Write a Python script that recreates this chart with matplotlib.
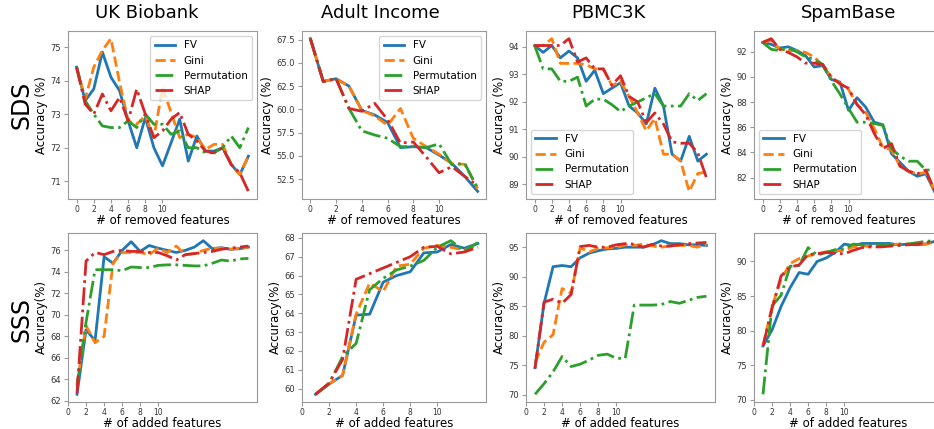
import matplotlib
matplotlib.use('Agg')
import matplotlib.pyplot as plt
from matplotlib.ticker import MultipleLocator

# ---- data ----
datasets = ['UK Biobank', 'Adult Income', 'PBMC3K', 'SpamBase']
methods = ['FV', 'Gini', 'Permutation', 'SHAP']

# SDS: accuracy vs # of removed features (starts at 0)
uk_sds_fv = [74.4, 73.4, 73.75, 74.85, 74.1, 73.7, 72.8, 72.0, 72.9, 72.0, 71.46, 72.15, 72.85, 71.6, 72.35, 71.9, 71.9, 72.0, 71.5, 71.2, 71.75]
uk_sds_gini = [74.4, 73.45, 74.4, 74.9, 75.25, 73.95, 72.8, 72.7, 72.95, 72.3, 73.8, 73.05, 72.3, 72.4, 72.3, 71.95, 72.1, 72.1, 71.5, 71.2, 71.75]
uk_sds_perm = [74.4, 73.4, 73.0, 72.65, 72.6, 72.6, 72.8, 72.6, 73.0, 72.7, 72.7, 72.4, 72.5, 72.0, 72.0, 71.85, 71.85, 72.0, 72.35, 72.0, 72.6]
uk_sds_shap = [74.4, 73.3, 73.0, 73.6, 73.1, 73.5, 72.8, 73.75, 73.0, 72.3, 72.5, 72.85, 73.05, 72.4, 72.2, 71.9, 71.85, 72.0, 71.5, 71.25, 70.7]

adult_sds_fv = [67.6, 63.0, 63.3, 62.5, 59.9, 59.4, 58.6, 55.9, 56.0, 55.9, 55.1, 54.2, 52.8, 51.2]
adult_sds_gini = [67.6, 63.0, 63.3, 62.5, 59.9, 59.3, 58.3, 60.1, 56.9, 56.0, 55.2, 54.2, 54.1, 51.5]
adult_sds_perm = [67.6, 63.0, 63.3, 60.1, 57.7, 57.25, 56.9, 56.0, 56.0, 55.9, 56.3, 54.05, 54.2, 51.5]
adult_sds_shap = [67.6, 63.0, 63.3, 60.1, 59.8, 60.65, 58.9, 56.4, 56.5, 54.9, 53.2, 53.85, 52.8, 51.8]

pbmc_sds_fv = [94.05, 93.8, 94.05, 93.6, 93.85, 93.6, 92.75, 93.15, 92.3, 92.5, 92.7, 91.85, 91.6, 91.2, 92.5, 91.85, 90.1, 89.85, 90.75, 89.85, 90.1]
pbmc_sds_gini = [94.05, 94.05, 94.3, 93.4, 93.4, 93.4, 93.35, 93.2, 93.2, 92.6, 92.75, 92.2, 91.6, 90.95, 91.4, 90.1, 90.1, 89.85, 88.75, 89.4, 89.45]
pbmc_sds_perm = [94.05, 93.2, 93.2, 92.75, 92.75, 92.9, 91.85, 92.1, 92.1, 91.9, 91.65, 91.85, 92.0, 92.15, 92.3, 91.85, 91.85, 91.85, 92.3, 92.05, 92.3]
pbmc_sds_shap = [94.05, 94.05, 94.05, 94.05, 94.3, 93.45, 93.6, 93.2, 93.2, 92.6, 92.95, 92.2, 92.0, 91.25, 91.6, 91.2, 90.55, 90.5, 90.5, 90.15, 89.25]

spam_sds_fv = [92.75, 92.6, 92.3, 92.4, 92.1, 91.7, 90.8, 90.9, 89.8, 89.6, 87.35, 88.35, 87.6, 86.4, 86.2, 83.9, 83.2, 82.5, 82.1, 82.3, 80.9]
spam_sds_gini = [92.75, 92.9, 92.2, 92.1, 92.1, 91.95, 91.6, 90.9, 90.0, 89.5, 89.0, 87.8, 87.2, 85.9, 84.4, 84.2, 82.9, 82.5, 82.3, 82.4, 81.0]
spam_sds_perm = [92.75, 92.2, 92.1, 92.3, 92.0, 91.6, 91.4, 91.0, 89.7, 88.65, 87.5, 86.4, 86.4, 86.3, 86.15, 84.3, 83.7, 83.3, 83.3, 82.6, 82.6]
spam_sds_shap = [92.75, 93.05, 92.2, 91.95, 91.6, 91.1, 91.1, 91.0, 90.0, 89.45, 89.1, 87.8, 87.0, 85.5, 84.3, 84.7, 82.9, 82.5, 82.3, 82.6, 81.0]

# SSS: accuracy vs # of added features (starts at 1)
uk_sss_fv = [62.6, 68.6, 67.6, 75.4, 74.8, 76.0, 76.8, 75.9, 76.45, 76.2, 76.0, 75.8, 76.0, 76.3, 76.9, 76.15, 76.25, 76.1, 76.15, 76.3]
uk_sss_gini = [63.5, 69.0, 67.4, 68.0, 74.85, 75.8, 75.8, 75.8, 75.6, 76.2, 75.8, 76.4, 75.6, 75.7, 76.0, 76.2, 76.2, 76.1, 76.2, 76.3]
uk_sss_perm = [63.4, 69.3, 74.2, 74.2, 74.2, 74.1, 74.45, 74.4, 74.4, 74.6, 74.65, 74.65, 74.6, 74.55, 74.55, 74.8, 75.1, 75.0, 75.2, 75.25]
uk_sss_shap = [62.7, 75.0, 75.8, 75.6, 75.9, 76.0, 75.9, 75.9, 75.8, 75.8, 75.5, 75.1, 75.6, 75.7, 75.8, 75.9, 76.1, 76.2, 76.3, 76.4]

adult_sss_fv = [59.7, 60.25, 60.7, 63.9, 63.95, 65.65, 66.0, 66.2, 67.2, 67.25, 67.65, 67.45, 67.7]
adult_sss_gini = [59.7, 60.25, 60.7, 63.95, 65.6, 65.15, 66.5, 66.6, 67.45, 67.6, 67.5, 67.35, 67.65]
adult_sss_perm = [59.7, 60.25, 61.7, 62.4, 65.25, 65.85, 66.3, 66.5, 66.8, 67.5, 67.85, 67.3, 67.75]
adult_sss_shap = [59.7, 60.3, 61.55, 65.8, 66.1, 66.4, 66.7, 67.0, 67.5, 67.55, 67.15, 67.25, 67.5]

pbmc_sss_fv = [74.6, 85.5, 91.7, 91.9, 91.7, 93.2, 94.0, 94.4, 94.7, 94.8, 95.0, 95.0, 95.0, 95.4, 96.1, 95.6, 95.6, 95.4, 95.4, 95.3]
pbmc_sss_gini = [75.5, 78.9, 80.2, 88.0, 87.2, 94.9, 94.2, 94.8, 94.9, 94.9, 95.4, 95.3, 95.5, 95.2, 95.0, 95.2, 95.3, 95.3, 95.0, 95.5]
pbmc_sss_perm = [70.1, 71.9, 73.9, 76.5, 74.8, 75.2, 75.9, 76.7, 76.9, 76.2, 76.2, 85.2, 85.2, 85.2, 85.3, 85.8, 85.5, 86.0, 86.5, 86.7]
pbmc_sss_shap = [74.5, 85.7, 86.2, 85.5, 87.0, 95.1, 95.3, 95.0, 95.0, 95.4, 95.6, 95.5, 95.0, 95.5, 95.2, 95.2, 95.4, 95.6, 95.7, 95.8]

spam_sss_fv = [77.8, 80.1, 83.5, 86.2, 88.4, 88.15, 90.0, 90.5, 91.3, 92.5, 92.3, 92.6, 92.6, 92.6, 92.6, 92.4, 92.5, 92.4, 92.5, 92.9]
spam_sss_gini = [77.8, 83.5, 87.4, 89.7, 90.4, 90.8, 91.1, 91.4, 91.5, 91.6, 92.1, 92.2, 92.2, 92.3, 92.4, 92.5, 92.5, 92.6, 92.5, 92.8]
spam_sss_perm = [70.8, 83.6, 85.1, 89.3, 89.4, 92.0, 90.9, 91.3, 91.7, 91.8, 92.5, 92.4, 92.3, 92.4, 92.4, 92.5, 92.5, 92.7, 92.9, 93.0]
spam_sss_shap = [77.8, 83.2, 87.9, 89.2, 89.5, 91.0, 91.1, 91.3, 91.2, 91.1, 91.6, 92.0, 92.1, 92.1, 92.2, 92.3, 92.4, 92.5, 92.7, 92.9]

sds = [
    [uk_sds_fv, uk_sds_gini, uk_sds_perm, uk_sds_shap],
    [adult_sds_fv, adult_sds_gini, adult_sds_perm, adult_sds_shap],
    [pbmc_sds_fv, pbmc_sds_gini, pbmc_sds_perm, pbmc_sds_shap],
    [spam_sds_fv, spam_sds_gini, spam_sds_perm, spam_sds_shap],
]
sss = [
    [uk_sss_fv, uk_sss_gini, uk_sss_perm, uk_sss_shap],
    [adult_sss_fv, adult_sss_gini, adult_sss_perm, adult_sss_shap],
    [pbmc_sss_fv, pbmc_sss_gini, pbmc_sss_perm, pbmc_sss_shap],
    [spam_sss_fv, spam_sss_gini, spam_sss_perm, spam_sss_shap],
]

# ---- style ----
colors = ['tab:blue', 'tab:orange', 'tab:green', 'tab:red']
styles = ['-', '--', '-.', '-.']
legend_loc = ['upper right', 'upper right', 'lower left', 'lower left']
sds_step = [1, 2.5, 1, 2]
sss_step = [2, 1, 5, 5]

W, H = 934, 429
fig = plt.figure(figsize=(W / 100, H / 100), dpi=100)

# axes boxes in pixels (left, width)
cols = [(68, 189), (302, 184), (526, 189), (754, 189)]
top_row = (31, 199)
bot_row = (233, 402)
title_x = [147, 380, 608, 849]


def px_axes(left, width, top, bottom):
    return fig.add_axes([left / W, 1 - bottom / H, width / W, (bottom - top) / H])


def style_axes(ax):
    for s in ax.spines.values():
        s.set_color('#999999')
    ax.tick_params(axis='both', colors='#999999', labelcolor='#333333', length=3, width=0.8)
    ax.tick_params(axis='x', labelsize=5.5, pad=1.5)
    ax.tick_params(axis='y', labelsize=6, pad=2)
    ax.set_xticks([0, 2, 4, 6, 8, 10])


for i in range(4):
    left, width = cols[i]

    # SDS row
    ax = px_axes(left, width, *top_row)
    for vals, c, ls, name in zip(sds[i], colors, styles, methods):
        x = list(range(len(vals)))
        ax.plot(x, vals, color=c, ls=ls, lw=2, label=name)
    style_axes(ax)
    ax.yaxis.set_major_locator(MultipleLocator(sds_step[i]))
    ax.set_xlabel('# of removed features', fontsize=8.5, labelpad=0)
    ax.set_ylabel('Accuracy (%)', fontsize=8.5, labelpad=2)
    ax.legend(loc=legend_loc[i], fontsize=7.5, framealpha=0.8)

    # SSS row
    ax = px_axes(left, width, *bot_row)
    for vals, c, ls, name in zip(sss[i], colors, styles, methods):
        x = list(range(1, len(vals) + 1))
        ax.plot(x, vals, color=c, ls=ls, lw=2, label=name)
    style_axes(ax)
    ax.set_xlim(left=0)
    ax.yaxis.set_major_locator(MultipleLocator(sss_step[i]))
    ax.set_xlabel('# of added features', fontsize=8.5, labelpad=0)
    ax.set_ylabel('Accuracy(%)', fontsize=8.5, labelpad=2)

    fig.text(title_x[i] / W, 1 - 13 / H, datasets[i], fontsize=13, ha='center', va='center')

fig.text(22 / W, 1 - 105 / H, 'SDS', fontsize=17, rotation=90, ha='center', va='center')
fig.text(22 / W, 1 - 320 / H, 'SSS', fontsize=17, rotation=90, ha='center', va='center')

fig.savefig('out.png', dpi=100)
